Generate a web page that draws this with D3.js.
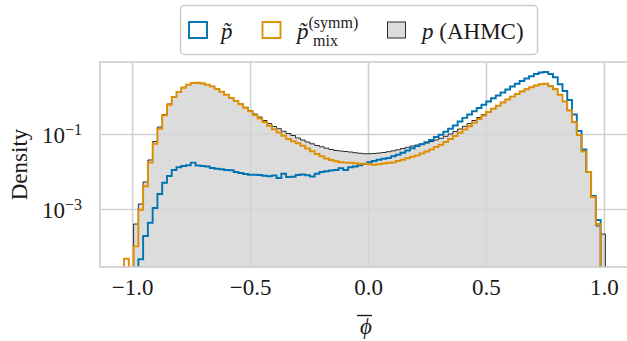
<!DOCTYPE html>
<html><head><meta charset="utf-8">
<script src="https://cdn.jsdelivr.net/npm/d3@7"></script>
<style>body{margin:0;background:#fff} svg{display:block}</style>
</head><body><svg id="c" width="627" height="341"></svg>
<script>
// histogram bins (shared edges)
const binStart = -1.034;
const binWidth = 0.0202;

// density of p~ (blue)
const pTilde = [0,0,0,4.56e-5,1.9e-4,4.31e-4,1.06e-3,2.51e-3,5.03e-3,7.59e-3,
0.01096,0.01294,0.01401,0.01463,0.0172,0.01445,0.01401,0.0136,0.0124,0.01188,
0.01145,0.01096,0.01076,0.0097,0.00912,0.00858,0.00822,0.00822,0.00807,0.00773,
0.00745,0.00782,0.00671,0.00874,0.00713,0.00726,0.00807,0.00832,0.00792,0.00736,
0.00874,0.0097,0.01012,0.01063,0.01096,0.01217,0.01096,0.01294,0.0136,0.01463,
0.01585,0.01759,0.01905,0.0205,0.0218,0.0229,0.0254,0.0281,0.0317,0.0363,
0.0416,0.0479,0.0535,0.0601,0.0692,0.0832,0.0958,0.1145,0.1384,0.1685,
0.2154,0.270,0.331,0.406,0.494,0.601,0.736,0.895,1.063,1.279,
1.537,1.848,2.194,2.591,3.020,3.457,3.981,4.365,4.50,3.981,
3.251,2.115,1.402,0.807,0.331,0.1202,0.0386,0.0097,0.00222,5.09e-4,0];

// density of p~_mix^(symm) (orange)
const pMix = [4.73e-5,0,1.01e-4,9.58e-4,4.03e-3,0.0172,0.0551,0.138,0.315,0.604,
0.970,1.318,1.717,2.064,2.291,2.333,2.222,2.064,1.848,1.585,
1.335,1.110,0.912,0.759,0.619,0.503,0.406,0.321,0.259,0.209,
0.1654,0.1334,0.1096,0.0895,0.0736,0.0639,0.0565,0.0488,0.0411,0.0346,
0.0293,0.0254,0.0222,0.0203,0.0188,0.0177,0.0172,0.0171,0.01655,0.01614,
0.01604,0.01556,0.01518,0.01565,0.01634,0.0171,0.01738,0.01905,0.0205,0.0226,
0.0247,0.0267,0.0302,0.0341,0.0386,0.0450,0.0515,0.0612,0.0736,0.0885,
0.1076,0.1318,0.1604,0.1989,0.2512,0.311,0.386,0.470,0.568,0.692,
0.832,0.994,1.166,1.359,1.556,1.759,1.965,2.115,2.194,1.871,
1.556,1.117,0.736,0.423,0.209,0.0940,0.0341,0.0097,0.00209,3.98e-4,0];

// density of p (AHMC) (grey)
const pAHMC = [0,0,3.98e-4,1.36e-3,5.25e-3,0.0203,0.0631,0.1537,0.331,0.631,
1.0,1.359,1.759,2.089,2.319,2.362,2.249,2.089,1.871,1.604,
1.359,1.131,0.929,0.773,0.631,0.515,0.418,0.3415,0.284,0.229,
0.1905,0.1585,0.1384,0.118,0.1031,0.0912,0.0782,0.0692,0.0612,0.0548,
0.0494,0.0456,0.0418,0.0386,0.0363,0.0352,0.0341,0.0331,0.0317,0.0306,
0.0298,0.0298,0.0302,0.0311,0.0321,0.0337,0.0356,0.0379,0.0411,0.0442,
0.0479,0.0509,0.0541,0.0575,0.0631,0.0692,0.0768,0.0868,0.1,0.1166,
0.1359,0.1604,0.1905,0.229,0.275,0.331,0.393,0.479,0.575,0.700,
0.842,1.006,1.180,1.376,1.566,1.770,1.977,2.128,2.194,1.905,
1.585,1.131,0.745,0.429,0.213,0.0970,0.0352,0.0100,0.00209,3.52e-4,2.15e-4];

const xTicks = [-1.0,-0.5,0.0,0.5,1.0];
const xTickLabels = ["\u22121.0","\u22120.5","0.0","0.5","1.0"];
const yTicks = [1e-3, 1e-1];
const yTickExps = ["\u22123","\u22121"];

const FONT = "'Liberation Serif','Times New Roman',serif";
const INK = "#1a1a1a";
const svg = d3.select("#c");
const L=100, T=62, R=636, B=267;
const x = d3.scaleLinear().domain([-1.136,1.136]).range([L,R]);
const y = d3.scaleLog().domain([2.84e-5, 8.32]).range([B,T]);

svg.append("defs").append("clipPath").attr("id","pc")
  .append("rect").attr("x",L).attr("y",T).attr("width",R-L).attr("height",B-T);

function txt(sel, size){ return sel.style("font-family",FONT).style("font-size",size+"px").attr("fill",INK); }

// grid
const gx = svg.append("g").attr("transform",`translate(0,${B})`)
  .call(d3.axisBottom(x).tickValues(xTicks).tickSize(-(B-T)).tickFormat((d,i)=>xTickLabels[i]));
gx.attr("font-family",null).attr("font-size",null);
gx.select(".domain").remove();
gx.selectAll("line").attr("stroke","#d0d0d0").attr("stroke-width",1.6);
txt(gx.selectAll("text").attr("y",28).attr("dy",0), 23);

const gy = svg.append("g").attr("transform",`translate(${L},0)`)
  .call(d3.axisLeft(y).tickValues(yTicks).tickSize(-(R-L)).tickFormat(""));
gy.attr("font-family",null).attr("font-size",null);
gy.select(".domain").remove();
gy.selectAll("line").attr("stroke","#d0d0d0").attr("stroke-width",1.6);
gy.selectAll(".tick").each(function(d){
  const t = txt(d3.select(this).append("text").attr("x",-18).attr("y",8).attr("text-anchor","end"), 23);
  t.append("tspan").text("10");
  t.append("tspan").attr("dy",-8).style("font-size","16px").text(yTickExps[yTicks.indexOf(d)]);
});

// step paths
const edges = d3.range(pAHMC.length+1).map(i => binStart + i*binWidth);
const floorV = 1e-9;
function stepPts(vals){
  const pts = [[x(edges[0]), y(floorV)]];
  vals.forEach((v,i)=>{
    const vv = v>0 ? v : floorV;
    pts.push([x(edges[i]), y(vv)]);
    pts.push([x(edges[i+1]), y(vv)]);
  });
  pts.push([x(edges[vals.length]), y(floorV)]);
  return pts;
}
const line = d3.line();
const plot = svg.append("g").attr("clip-path","url(#pc)");
plot.append("path").attr("d", line(stepPts(pAHMC))+"Z")
  .attr("fill","#d3d3d3").attr("fill-opacity",0.8)
  .attr("stroke","#2b2b2b").attr("stroke-width",1);
plot.append("path").attr("d", line(stepPts(pTilde)))
  .attr("fill","none").attr("stroke","#0173b2").attr("stroke-width",1.9);
plot.append("path").attr("d", line(stepPts(pMix)))
  .attr("fill","none").attr("stroke","#de8f05").attr("stroke-width",1.9);

// frame
svg.append("rect").attr("x",L).attr("y",T).attr("width",R-L).attr("height",B-T)
  .attr("fill","none").attr("stroke","#cccccc").attr("stroke-width",1.6);

// axis labels
txt(svg.append("text").attr("transform","translate(27,164.5) rotate(-90)").attr("text-anchor","middle"), 23)
  .text("Density");
txt(svg.append("text").attr("x",366).attr("y",334).attr("text-anchor","middle"), 23)
  .style("font-style","italic").text("\u03d5");
svg.append("line").attr("x1",357).attr("x2",372).attr("y1",315.5).attr("y2",315.5)
  .attr("stroke",INK).attr("stroke-width",1.4);

// legend
const lg = svg.append("g");
lg.append("rect").attr("x",180.5).attr("y",5.5).attr("width",357).attr("height",49).attr("rx",4)
  .attr("fill","#fff").attr("stroke","#cccccc").attr("stroke-width",1.5);
lg.append("rect").attr("x",189).attr("y",22).attr("width",18).attr("height",16)
  .attr("fill","#fff").attr("stroke","#0173b2").attr("stroke-width",1.9);
lg.append("rect").attr("x",262.5).attr("y",22).attr("width",18).attr("height",16)
  .attr("fill","#fff").attr("stroke","#de8f05").attr("stroke-width",1.9);
lg.append("rect").attr("x",387.5).attr("y",22).attr("width",18).attr("height",16)
  .attr("fill","#d3d3d3").attr("fill-opacity",0.8).attr("stroke","#2b2b2b").attr("stroke-width",1);
txt(lg.append("text").attr("x",221).attr("y",38.5), 23).style("font-style","italic").text("p\u0303");
const t2 = txt(lg.append("text").attr("x",297).attr("y",38.5), 23);
t2.append("tspan").style("font-style","italic").text("p\u0303");
t2.append("tspan").attr("dy",-10.5).style("font-size","16px").text("(symm)");
t2.append("tspan").attr("x",313).attr("dy",17.5).style("font-size","16px").text("mix");
const t3 = txt(lg.append("text").attr("x",422).attr("y",38.5), 23);
t3.append("tspan").style("font-style","italic").text("p");
t3.append("tspan").text(" (AHMC)");
</script></body></html>
